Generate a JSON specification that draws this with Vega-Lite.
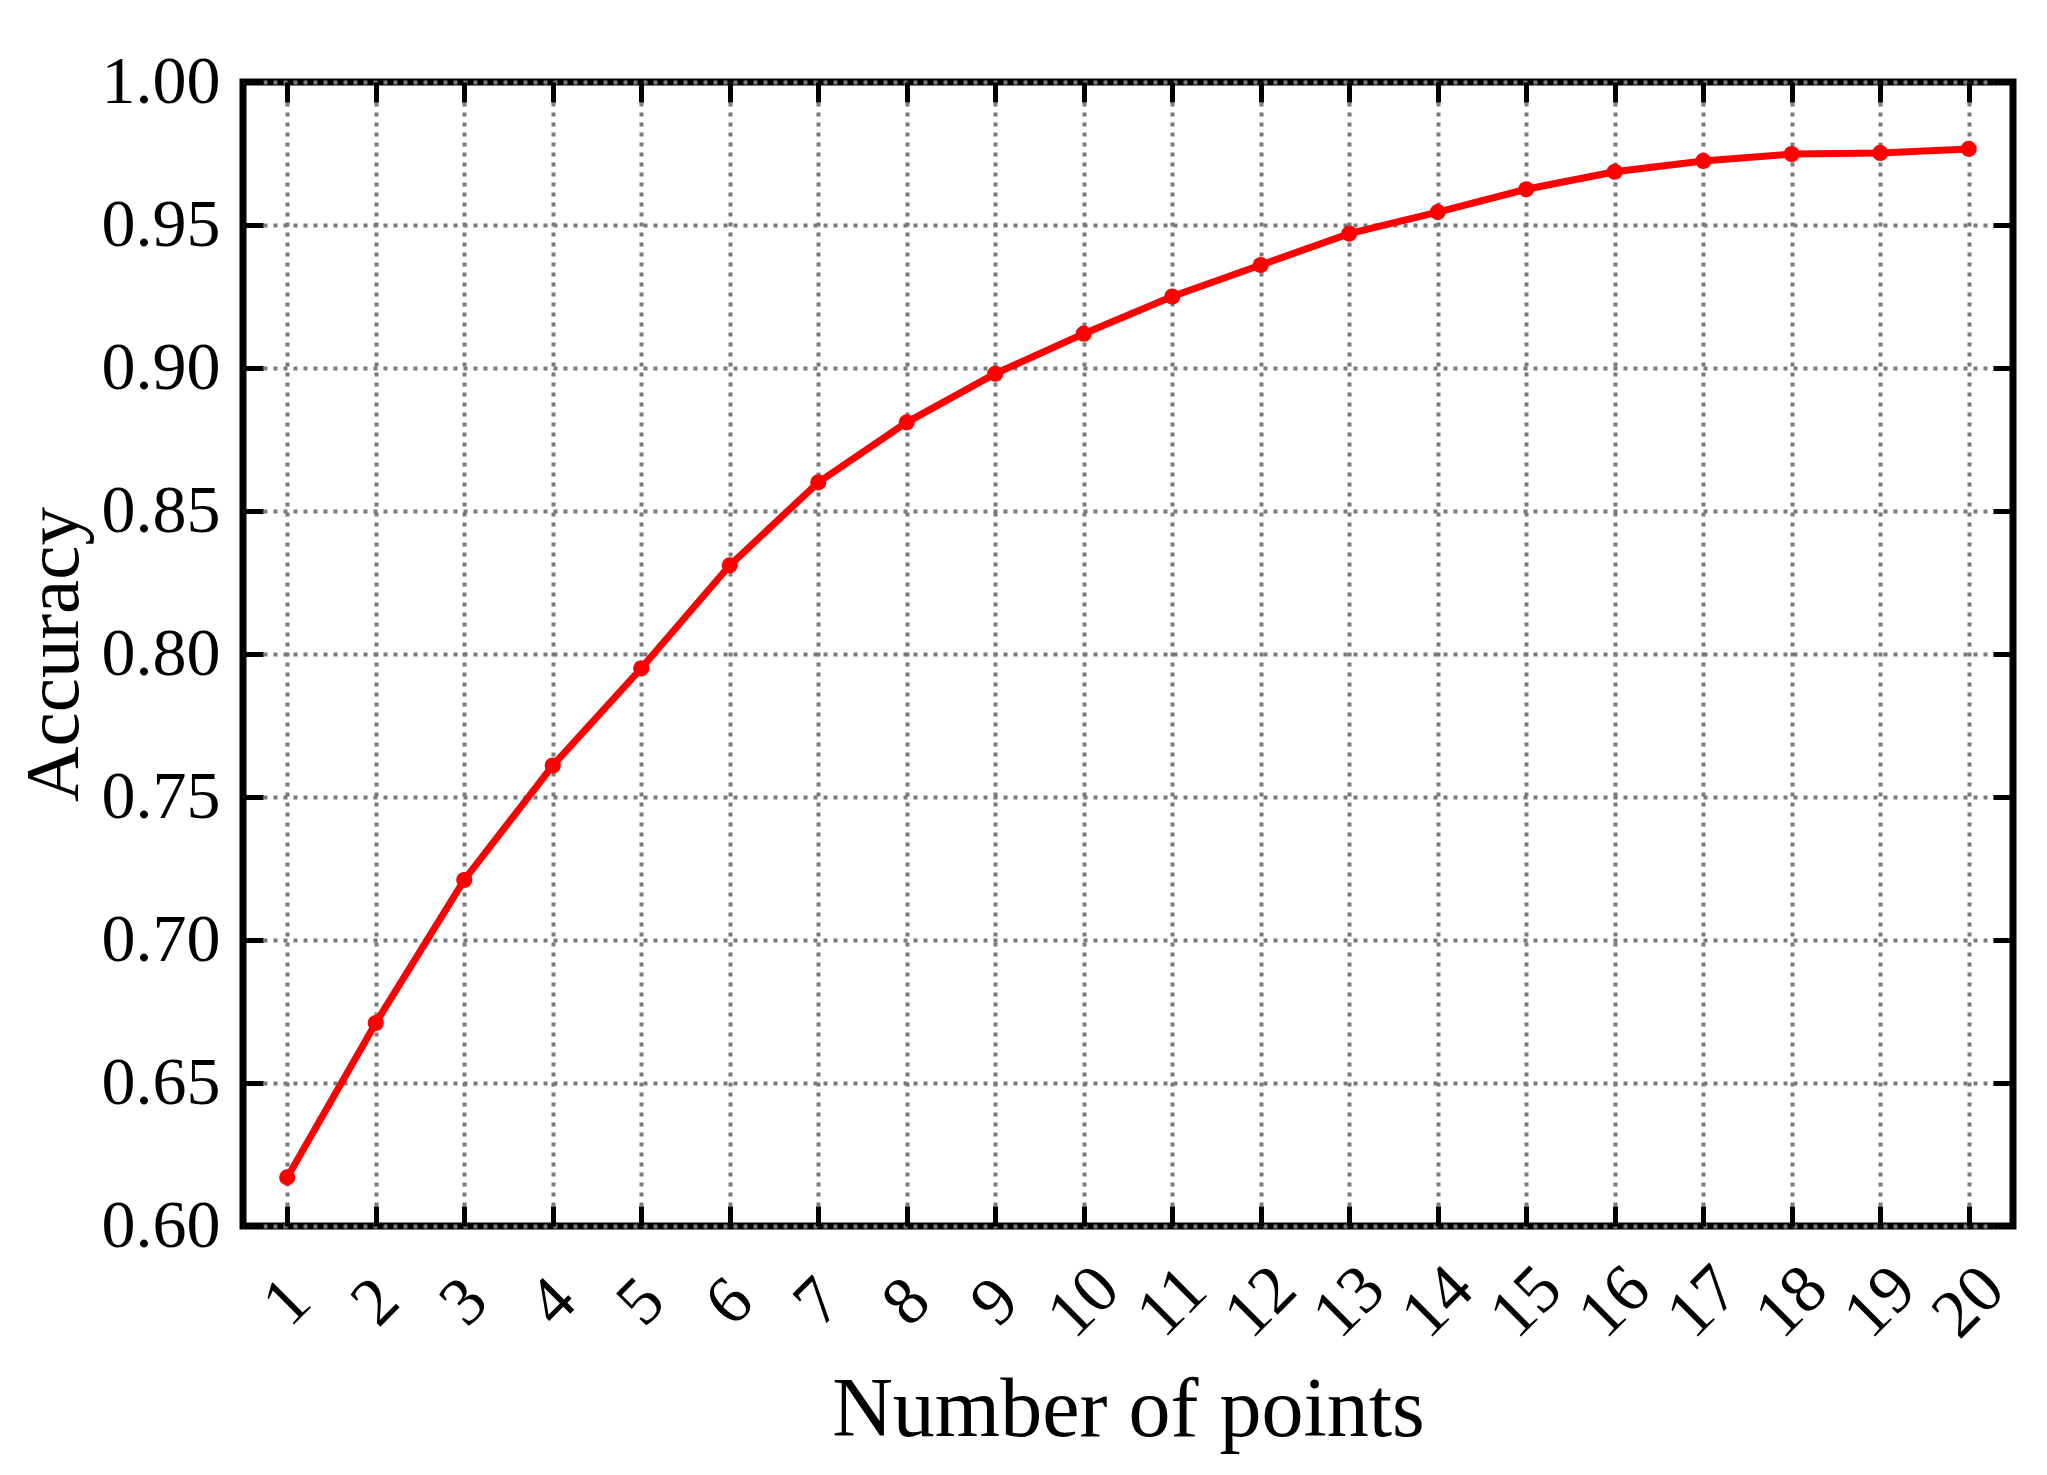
{
  "$schema": "https://vega.github.io/schema/vega-lite/v6.json",
  "width": 1770,
  "height": 1144,
  "autosize": {"type": "none"},
  "padding": {"left": 243, "top": 82, "right": 34, "bottom": 249},
  "background": "white",
  "data": {
    "values": [
      {"points": 1, "accuracy": 0.617},
      {"points": 2, "accuracy": 0.671},
      {"points": 3, "accuracy": 0.721},
      {"points": 4, "accuracy": 0.761},
      {"points": 5, "accuracy": 0.795},
      {"points": 6, "accuracy": 0.831},
      {"points": 7, "accuracy": 0.860},
      {"points": 8, "accuracy": 0.881},
      {"points": 9, "accuracy": 0.898},
      {"points": 10, "accuracy": 0.912},
      {"points": 11, "accuracy": 0.925},
      {"points": 12, "accuracy": 0.936},
      {"points": 13, "accuracy": 0.947},
      {"points": 14, "accuracy": 0.9545},
      {"points": 15, "accuracy": 0.9625},
      {"points": 16, "accuracy": 0.9686},
      {"points": 17, "accuracy": 0.9724},
      {"points": 18, "accuracy": 0.9748},
      {"points": 19, "accuracy": 0.9752},
      {"points": 20, "accuracy": 0.9766}
    ]
  },
  "config": {
    "font": "Liberation Serif",
    "view": {"stroke": "black", "strokeWidth": 7},
    "axis": {
      "domain": false,
      "tickColor": "black",
      "tickWidth": 5,
      "tickSize": -20,
      "labelColor": "black",
      "labelFont": "Liberation Serif",
      "labelFontSize": 68,
      "labelOverlap": false,
      "labelFlush": false,
      "labelBound": false,
      "titleColor": "black",
      "titleFont": "Liberation Serif",
      "titleFontWeight": "normal",
      "gridColor": "#7a7a7a",
      "gridDash": [4, 6],
      "gridWidth": 4,
      "gridOpacity": 1
    }
  },
  "layer": [
    {
      "mark": {"type": "line", "color": "#ff0000", "strokeWidth": 7},
      "encoding": {
        "x": {
          "field": "points",
          "type": "quantitative",
          "scale": {"domain": [0.5, 20.5], "nice": false, "zero": false},
          "axis": {
            "orient": "bottom",
            "values": [1, 2, 3, 4, 5, 6, 7, 8, 9, 10, 11, 12, 13, 14, 15, 16, 17, 18, 19, 20],
            "grid": true,
            "labelAngle": -45,
            "labelAlign": "center",
            "labelBaseline": "middle",
            "labelPadding": 96,
            "title": "Number of points",
            "titleFontSize": 84,
            "titleBaseline": "alphabetic",
            "titleY": 209,
            "titleX": 885
          }
        },
        "y": {
          "field": "accuracy",
          "type": "quantitative",
          "scale": {"domain": [0.6, 1.0], "nice": false, "zero": false},
          "axis": {
            "orient": "left",
            "values": [0.6, 0.65, 0.7, 0.75, 0.8, 0.85, 0.9, 0.95, 1.0],
            "format": ".2f",
            "grid": true,
            "labelPadding": 43,
            "title": "Accuracy",
            "titleFontSize": 77,
            "titleAngle": -90,
            "titleAlign": "center",
            "titleBaseline": "alphabetic",
            "titleX": -166,
            "titleY": 572
          }
        }
      }
    },
    {
      "mark": {"type": "circle", "color": "#ff0000", "size": 260, "opacity": 1},
      "encoding": {
        "x": {
          "field": "points",
          "type": "quantitative",
          "axis": {
            "orient": "top",
            "values": [1, 2, 3, 4, 5, 6, 7, 8, 9, 10, 11, 12, 13, 14, 15, 16, 17, 18, 19, 20],
            "grid": false,
            "labels": false,
            "title": null
          }
        },
        "y": {
          "field": "accuracy",
          "type": "quantitative",
          "axis": {
            "orient": "right",
            "values": [0.6, 0.65, 0.7, 0.75, 0.8, 0.85, 0.9, 0.95, 1.0],
            "grid": false,
            "labels": false,
            "title": null
          }
        }
      }
    }
  ],
  "resolve": {"axis": {"x": "independent", "y": "independent"}}
}
